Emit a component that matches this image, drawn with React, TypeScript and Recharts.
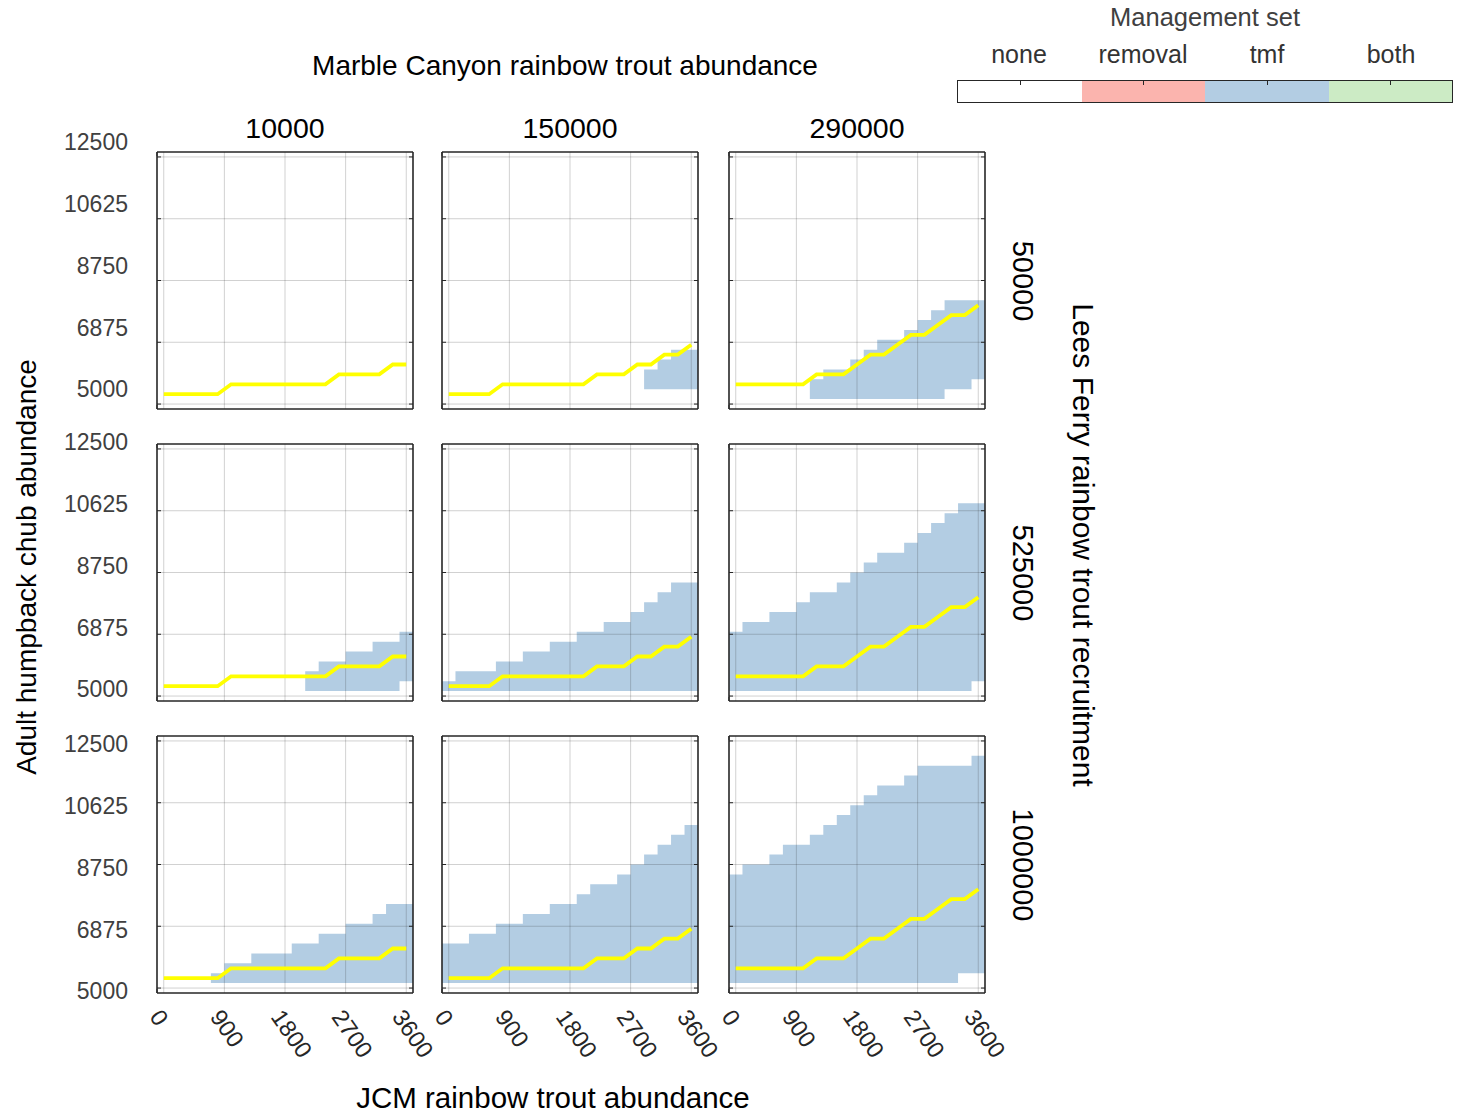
import React from 'react';
import { Area, CartesianGrid, ComposedChart, Line, XAxis, YAxis } from 'recharts';

// JCM rainbow trout abundance levels (x) and adult humpback chub levels (y)
const jcmAbundance = [0, 200, 400, 600, 800, 1000, 1200, 1400, 1600, 1800, 2000, 2200, 2400, 2600, 2800, 3000, 3200, 3400, 3600];
const chubAbundance = [
  5000, 5300, 5600, 5900, 6200, 6500, 6800, 7100, 7400, 7700, 8000, 8300, 8600,
  8900, 9200, 9500, 9800, 10100, 10400, 10700, 11000, 11300, 11600, 11900, 12200, 12500,
];
const jcmTicks = [0, 900, 1800, 2700, 3600];
const chubTicks = [5000, 6875, 8750, 10625, 12500];

const marbleCanyon = ['10000', '150000', '290000'];
const leesFerry = ['50000', '525000', '1000000'];
const managementSets = ['none', 'removal', 'tmf', 'both'];
const managementColors = ['#ffffff', '#fbb4ae', '#b3cde3', '#ccebc5'];

// yellow threshold line, one per Marble Canyon level
const thresholdMc10k = [5300, 5300, 5300, 5300, 5300, 5600, 5600, 5600, 5600, 5600, 5600, 5600, 5600, 5900, 5900, 5900, 5900, 6200, 6200];
const thresholdMc150k = [5300, 5300, 5300, 5300, 5600, 5600, 5600, 5600, 5600, 5600, 5600, 5900, 5900, 5900, 6200, 6200, 6500, 6500, 6800];
const thresholdMc290k = [5600, 5600, 5600, 5600, 5600, 5600, 5900, 5900, 5900, 6200, 6500, 6500, 6800, 7100, 7100, 7400, 7700, 7700, 8000];

// lowest / highest chub level where "tmf" is the management set, per JCM level
const _ = null;
const tmfLow50k10k = [_, _, _, _, _, _, _, _, _, _, _, _, _, _, _, _, _, _, _];
const tmfHigh50k10k = [_, _, _, _, _, _, _, _, _, _, _, _, _, _, _, _, _, _, _];
const tmfLow50k150k = [_, _, _, _, _, _, _, _, _, _, _, _, _, _, _, 5600, 5600, 5600, 5600];
const tmfHigh50k150k = [_, _, _, _, _, _, _, _, _, _, _, _, _, _, _, 5900, 6200, 6500, 6500];
const tmfLow50k290k = [_, _, _, _, _, _, 5300, 5300, 5300, 5300, 5300, 5300, 5300, 5300, 5300, 5300, 5600, 5600, 5900];
const tmfHigh50k290k = [_, _, _, _, _, _, 5600, 5900, 5900, 6200, 6500, 6800, 6800, 7100, 7400, 7700, 8000, 8000, 8000];

const tmfLow525k10k = [_, _, _, _, _, _, _, _, _, _, _, 5300, 5300, 5300, 5300, 5300, 5300, 5300, 5600];
const tmfHigh525k10k = [_, _, _, _, _, _, _, _, _, _, _, 5600, 5900, 5900, 6200, 6200, 6500, 6500, 6800];
const tmfLow525k150k = [5300, 5300, 5300, 5300, 5300, 5300, 5300, 5300, 5300, 5300, 5300, 5300, 5300, 5300, 5300, 5300, 5300, 5300, 5300];
const tmfHigh525k150k = [5300, 5600, 5600, 5600, 5900, 5900, 6200, 6200, 6500, 6500, 6800, 6800, 7100, 7100, 7400, 7700, 8000, 8300, 8300];
const tmfLow525k290k = [5300, 5300, 5300, 5300, 5300, 5300, 5300, 5300, 5300, 5300, 5300, 5300, 5300, 5300, 5300, 5300, 5300, 5300, 5600];
const tmfHigh525k290k = [6800, 7100, 7100, 7400, 7400, 7700, 8000, 8000, 8300, 8600, 8900, 9200, 9200, 9500, 9800, 10100, 10400, 10700, 10700];

const tmfLow1m10k = [_, _, _, _, 5300, 5300, 5300, 5300, 5300, 5300, 5300, 5300, 5300, 5300, 5300, 5300, 5300, 5300, 5300];
const tmfHigh1m10k = [_, _, _, _, 5300, 5600, 5600, 5900, 5900, 5900, 6200, 6200, 6500, 6500, 6800, 6800, 7100, 7400, 7400];
const tmfLow1m150k = [5300, 5300, 5300, 5300, 5300, 5300, 5300, 5300, 5300, 5300, 5300, 5300, 5300, 5300, 5300, 5300, 5300, 5300, 5300];
const tmfHigh1m150k = [6200, 6200, 6500, 6500, 6800, 6800, 7100, 7100, 7400, 7400, 7700, 8000, 8000, 8300, 8600, 8900, 9200, 9500, 9800];
const tmfLow1m290k = [5300, 5300, 5300, 5300, 5300, 5300, 5300, 5300, 5300, 5300, 5300, 5300, 5300, 5300, 5300, 5300, 5300, 5600, 5600];
const tmfHigh1m290k = [8300, 8600, 8600, 8900, 9200, 9200, 9500, 9800, 10100, 10400, 10700, 11000, 11000, 11300, 11600, 11600, 11600, 11600, 11900];

const thresholds = [thresholdMc10k, thresholdMc150k, thresholdMc290k];
const tmfLow = [
  [tmfLow50k10k, tmfLow50k150k, tmfLow50k290k],
  [tmfLow525k10k, tmfLow525k150k, tmfLow525k290k],
  [tmfLow1m10k, tmfLow1m150k, tmfLow1m290k],
];
const tmfHigh = [
  [tmfHigh50k10k, tmfHigh50k150k, tmfHigh50k290k],
  [tmfHigh525k10k, tmfHigh525k150k, tmfHigh525k290k],
  [tmfHigh1m10k, tmfHigh1m150k, tmfHigh1m290k],
];

const FONT = 'Arial, "Liberation Sans", Helvetica, sans-serif';
const TMF_BLUE = '#b3cde3';
const AXIS_DARK = '#262626';
const PLOT_W = 256;
const PLOT_H = 257;
const COL_LEFT = [157, 442, 729];
const ROW_TOP = [152, 444, 736];
const Y_AXIS_W = 100;
const X_AXIS_H = 80;
const M = { top: 24, right: 40, bottom: 4, left: 4 };
const CHUB_LABEL_SHIFT = [-15, -7, 3];

const halfStep = (jcmAbundance[1] - jcmAbundance[0]) / 2;
const halfCell = (chubAbundance[1] - chubAbundance[0]) / 2;
const jcmDomain = [jcmAbundance[0] - halfStep, jcmAbundance[jcmAbundance.length - 1] + halfStep];
const chubDomain = [chubAbundance[0] - halfCell, chubAbundance[chubAbundance.length - 1] + halfCell];

function buildRows(threshold: number[], low: (number | null)[], high: (number | null)[]) {
  const band = (i: number) =>
    low[i] == null || high[i] == null ? null : [(low[i] as number) - halfCell, (high[i] as number) + halfCell];
  const rows: { jcm: number; tmf: number[] | null; threshold: number | null }[] = [];
  jcmAbundance.forEach((x, i) => {
    rows.push({ jcm: x - halfStep, tmf: band(i), threshold: null });
    rows.push({ jcm: x, tmf: null, threshold: threshold[i] });
  });
  const last = jcmAbundance.length - 1;
  rows.push({ jcm: jcmAbundance[last] + halfStep, tmf: band(last), threshold: null });
  return rows;
}

const EmptyTick = () => <g />;

const makeChubTick = (shift: number) => (props: any) => {
  const { x, y, payload } = props;
  return (
    <text x={x - 29} y={y + shift} dy="0.36em" textAnchor="end" fontSize={23} fontFamily={FONT} fill="#404040">
      {payload.value}
    </text>
  );
};

function JcmTick(props: any) {
  const { x, y, payload } = props;
  return (
    <text transform={`translate(${x - 15},${y + 24}) rotate(55)`} fontSize={23.5} fontFamily={FONT} fill="#262626">
      {payload.value}
    </text>
  );
}

const boxAxis = {
  type: 'number' as const,
  allowDataOverflow: true,
  interval: 0 as const,
  mirror: true,
  tick: EmptyTick,
  tickSize: 4,
  stroke: AXIS_DARK,
  axisLine: { stroke: AXIS_DARK, strokeWidth: 1.6 },
  tickLine: { stroke: AXIS_DARK, strokeWidth: 1 },
};

function Panel({ row, col }: { row: number; col: number }) {
  const showY = col === 0;
  const showX = row === 2;
  const data = buildRows(thresholds[col], tmfLow[row][col], tmfHigh[row][col]);

  return (
    <div
      style={{
        position: 'absolute',
        left: COL_LEFT[col] - Y_AXIS_W - M.left,
        top: ROW_TOP[row] - M.top,
        pointerEvents: 'none',
      }}
    >
      <ComposedChart
        width={PLOT_W + Y_AXIS_W + M.left + M.right}
        height={PLOT_H + X_AXIS_H + M.top + M.bottom}
        data={data}
        margin={M}
      >
        <XAxis
          dataKey="jcm"
          type="number"
          domain={jcmDomain}
          ticks={jcmTicks}
          interval={0}
          allowDataOverflow
          height={X_AXIS_H}
          tickSize={0}
          tickMargin={0}
          axisLine={false}
          tickLine={false}
          tick={showX ? JcmTick : EmptyTick}
        />
        <YAxis
          type="number"
          domain={chubDomain}
          ticks={chubTicks}
          interval={0}
          allowDataOverflow
          width={Y_AXIS_W}
          tickSize={0}
          tickMargin={0}
          axisLine={false}
          tickLine={false}
          tick={showY ? makeChubTick(CHUB_LABEL_SHIFT[row]) : EmptyTick}
        />
        <XAxis xAxisId="boxTop" orientation="top" height={20} domain={jcmDomain} ticks={jcmTicks} {...boxAxis} />
        <XAxis xAxisId="boxBottom" orientation="bottom" height={20} domain={jcmDomain} ticks={jcmTicks} {...boxAxis} />
        <YAxis yAxisId="boxLeft" orientation="left" width={20} domain={chubDomain} ticks={chubTicks} {...boxAxis} />
        <YAxis yAxisId="boxRight" orientation="right" width={20} domain={chubDomain} ticks={chubTicks} {...boxAxis} />
        <Area
          dataKey="tmf"
          type="stepAfter"
          fill={TMF_BLUE}
          fillOpacity={1}
          stroke="none"
          connectNulls
          dot={false}
          activeDot={false}
          isAnimationActive={false}
        />
        <CartesianGrid
          stroke={AXIS_DARK}
          strokeOpacity={0.21}
          horizontalValues={chubTicks}
          verticalValues={jcmTicks}
          zIndex={150}
        />
        <Line
          dataKey="threshold"
          type="linear"
          stroke="#ffff00"
          strokeWidth={3.8}
          dot={false}
          activeDot={false}
          connectNulls
          isAnimationActive={false}
        />
      </ComposedChart>
    </div>
  );
}

function Label({ x, y, size, rotate = 0, color = '#000', children }: any) {
  return (
    <div
      style={{
        position: 'absolute',
        left: x,
        top: y,
        fontSize: size,
        lineHeight: 1,
        color,
        whiteSpace: 'nowrap',
        transform: `translate(-50%, -50%) rotate(${rotate}deg)`,
      }}
    >
      {children}
    </div>
  );
}

function ManagementLegend() {
  const left = 957;
  const top = 80;
  const width = 496;
  const height = 23;
  const seg = width / managementSets.length;
  return (
    <>
      <Label x={left + width / 2} y={18} size={25.5} color="#404040">
        Management set
      </Label>
      {managementSets.map((name, i) => (
        <Label key={name} x={left + seg * (i + 0.5)} y={54} size={25} color="#333">
          {name}
        </Label>
      ))}
      <div
        style={{
          position: 'absolute',
          left,
          top,
          width,
          height,
          display: 'flex',
          border: `1px solid ${AXIS_DARK}`,
          boxSizing: 'border-box',
        }}
      >
        {managementColors.map((c, i) => (
          <div key={i} style={{ flex: 1, background: c, position: 'relative' }}>
            <div style={{ position: 'absolute', left: '50%', top: 0, width: 1, height: 4, background: AXIS_DARK }} />
          </div>
        ))}
      </div>
    </>
  );
}

export default function App() {
  return (
    <div
      style={{
        position: 'absolute',
        left: 0,
        top: 0,
        width: 1460,
        height: 1114,
        background: '#fff',
        fontFamily: FONT,
        overflow: 'hidden',
      }}
    >
      <Label x={565} y={66} size={28}>
        Marble Canyon rainbow trout abundance
      </Label>
      {marbleCanyon.map((name, c) => (
        <Label key={name} x={COL_LEFT[c] + PLOT_W / 2} y={128} size={28.5}>
          {name}
        </Label>
      ))}
      {leesFerry.map((name, r) => (
        <Label key={name} x={1022} y={ROW_TOP[r] + PLOT_H / 2} size={29} rotate={90}>
          {name}
        </Label>
      ))}
      <Label x={1083} y={545} size={30} rotate={90}>
        Lees Ferry rainbow trout recruitment
      </Label>
      <Label x={27} y={567} size={28} rotate={-90}>
        Adult humpback chub abundance
      </Label>
      <Label x={553} y={1098} size={29.5}>
        JCM rainbow trout abundance
      </Label>
      <ManagementLegend />
      {leesFerry.map((lf, r) =>
        marbleCanyon.map((mc, c) => <Panel key={`${lf}-${mc}`} row={r} col={c} />)
      )}
    </div>
  );
}
